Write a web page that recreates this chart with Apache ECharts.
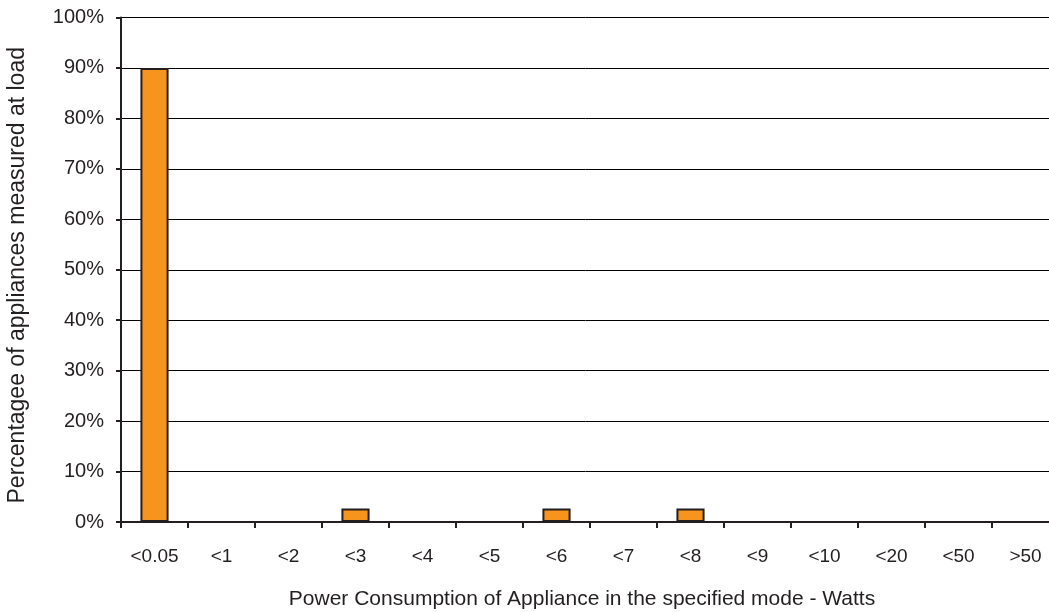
<!DOCTYPE html>
<html><head><meta charset="utf-8">
<script src="https://cdn.jsdelivr.net/npm/echarts@6/dist/echarts.min.js"></script>
<style>html,body{margin:0;padding:0;background:#fff}#c{width:1049px;height:612px}</style>
</head><body><div id="c"></div>
<script>
const categories = ['<0.05','<1','<2','<3','<4','<5','<6','<7','<8','<9','<10','<20','<50','>50'];
const percentages = [90, 0, 0, 2.7, 0, 0, 2.7, 0, 2.7, 0, 0, 0, 0, 0];
const yTicks = [0,10,20,30,40,50,60,70,80,90,100];
const xTitle = 'Power Consumption of Appliance in the specified mode - Watts';
const yTitle = 'Percentagee of appliances measured at load';

const chart = echarts.init(document.getElementById('c'));
const font = 'Liberation Sans, Arial, Helvetica, sans-serif';
chart.setOption({
  animation: false,
  grid: {left: 121, right: -10, top: 17.5, bottom: 90, containLabel: false, outerBoundsMode: 'none'},
  xAxis: {
    type: 'category', data: categories,
    axisLine: {lineStyle: {color: '#231f20', width: 2}},
    axisTick: {show: true, length: 6, lineStyle: {color: '#231f20', width: 2}},
    axisLabel: {color: '#231f20', fontSize: 19, fontFamily: font, margin: 25},
    name: xTitle, nameLocation: 'middle', nameGap: 67,
    nameTextStyle: {color: '#231f20', fontSize: 21, fontFamily: font, padding: [0, 16, 0, 0]}
  },
  yAxis: {
    type: 'value', min: 0, max: 100, interval: 10,
    axisLine: {show: true, lineStyle: {color: '#231f20', width: 2}},
    axisTick: {show: true, length: 5, lineStyle: {color: '#231f20', width: 2}},
    axisLabel: {color: '#231f20', fontSize: 20, fontFamily: font, margin: 17,
      formatter: v => yTicks.includes(v) ? v + '%' : ''},
    splitLine: {show: true, lineStyle: {color: '#000', width: 1}},
    name: yTitle, nameLocation: 'middle', nameGap: 92,
    nameTextStyle: {color: '#231f20', fontSize: 23, fontFamily: font, padding: [0, 11, 0, 0]}
  },
  series: [{
    type: 'bar', data: percentages, barWidth: '42%',
    itemStyle: {color: '#f7941d', borderColor: '#231f20', borderWidth: 2}
  }]
});
</script></body></html>
